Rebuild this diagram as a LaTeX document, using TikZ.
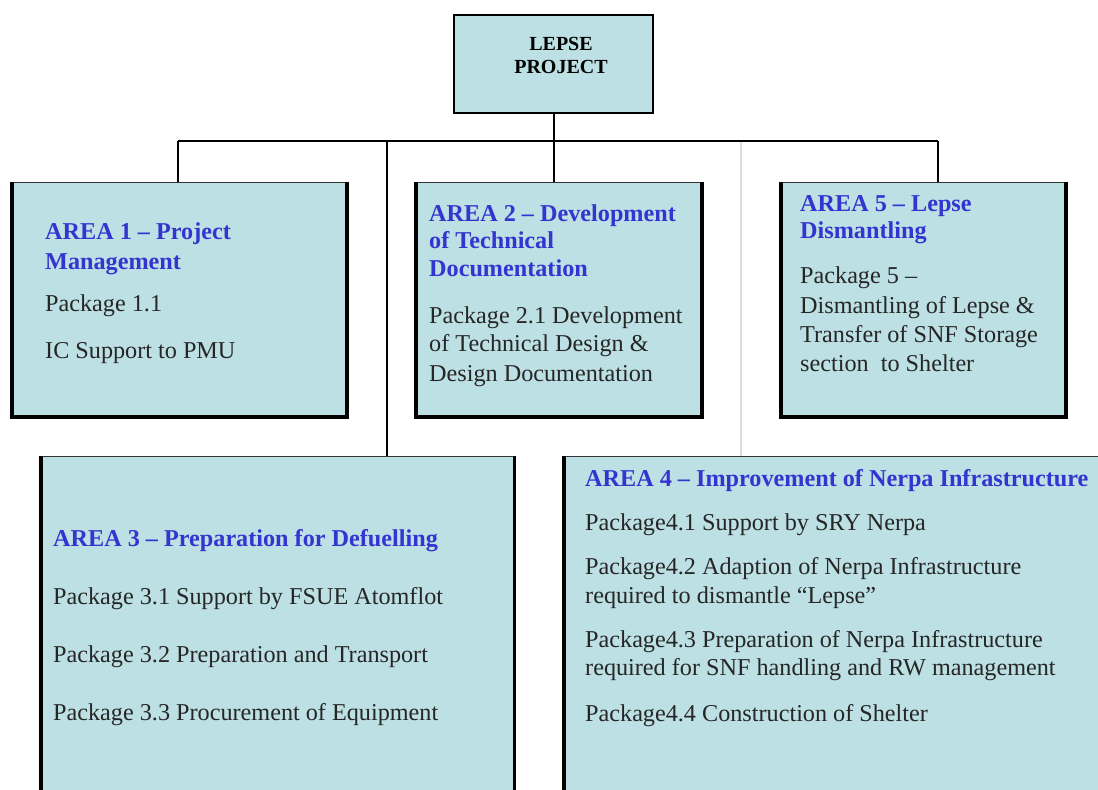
\documentclass[tikz,border=0pt]{standalone}
\usepackage{fontspec}
\setmainfont{Liberation Serif}
\definecolor{boxfill}{RGB}{188,224,227}
\definecolor{ttlblue}{RGB}{52,52,208}
\definecolor{sepgray}{RGB}{222,222,222}
\tikzset{
  areabox/.style={draw=black!80, line width=1pt, fill=boxfill, anchor=north west, inner sep=0pt},
  topbox/.style={draw=black, line width=2pt, fill=boxfill, anchor=north west, inner sep=0pt},
  ttl/.style={anchor=base west, inner sep=0pt, text=ttlblue, font=\fontsize{24.2}{28}\selectfont\bfseries},
  txt/.style={anchor=base west, inner sep=0pt, text=black!85, font=\fontsize{24.2}{28}\selectfont},
  toptxt/.style={anchor=base, inner sep=0pt, font=\fontsize{20}{24}\selectfont\bfseries},
  conn/.style={draw=black, line width=2pt},
  hconn/.style={draw=black, line width=1.5pt},
  grayconn/.style={draw=sepgray, line width=1.5pt}
}
\newcommand{\heavyedge}[1]{\draw[line width=4pt, black, line cap=square] ([xshift=2pt]#1.north west) -- ([xshift=2pt,yshift=2pt]#1.south west) -- ([xshift=-2pt,yshift=2pt]#1.south east) -- ([xshift=-2pt]#1.north east);}
\begin{document}
\begin{tikzpicture}[x=1pt,y=-1pt]
\useasboundingbox[fill=white] (0,0) rectangle (1098,790);

% top box
\node[topbox, minimum width=199pt, minimum height=98pt] (top) at (453,14) {};
\node[toptxt] (topA) at (561,50) {LEPSE};
\node[toptxt] (topB) at (561,73) {PROJECT};

% area boxes
\node[areabox, minimum width=338pt, minimum height=236pt] (a1) at (10,182) {};
\node[areabox, minimum width=289pt, minimum height=236pt] (a2) at (414,182) {};
\node[areabox, minimum width=288pt, minimum height=236pt] (a5) at (779,182) {};
\node[areabox, minimum width=476pt, minimum height=360pt] (a3) at (39,456) {};
\node[areabox, minimum width=560pt, minimum height=360pt] (a4) at (562,456) {};
\heavyedge{a1}
\heavyedge{a2}
\heavyedge{a5}
\draw[line width=4pt, black] ([xshift=2pt]a3.north west) -- ([xshift=2pt]a3.south west);
\draw[line width=3pt, black] ([xshift=-1.5pt]a3.north east) -- ([xshift=-1.5pt]a3.south east);
\draw[line width=4pt, black] ([xshift=2pt]a4.north west) -- ([xshift=2pt]a4.south west);

% connectors
\coordinate (jL) at (178,141);
\coordinate (j3) at (387,141);
\coordinate (jC) at (554,141);
\coordinate (j4) at (741,141);
\coordinate (jR) at (938,141);
\coordinate (d5) at (938,182);
\draw[grayconn] (j4) -- (j4 |- a4.north);
\draw[hconn] (jL) -- (jR);
\draw[conn] (top.south -| jC) -- (jC |- a2.north);
\draw[conn] (jL) -- (jL |- a1.north);
\draw[conn] (j3) -- (j3 |- a3.north);
\draw[conn] (jR) -- (d5);

% area 1 text
\node[ttl] (t1a) at (45,239) {AREA 1 – Project};
\node[ttl] (t1b) at (45,269) {Management};
\node[txt] (t1c) at (45,311) {Package 1.1};
\node[txt] (t1d) at (45,358) {IC Support to PMU};

% area 2 text
\node[ttl] (t2a) at (429,221) {AREA 2 – Development};
\node[ttl] (t2b) at (429,248) {of Technical};
\node[ttl] (t2c) at (429,276) {Documentation};
\node[txt] (t2d) at (429,323) {Package 2.1 Development};
\node[txt] (t2e) at (429,351) {of Technical Design \&};
\node[txt] (t2f) at (429,381) {Design Documentation};

% area 5 text
\node[ttl] (t5a) at (800,211) {AREA 5 – Lepse};
\node[ttl] (t5b) at (800,238) {Dismantling};
\node[txt] (t5c) at (800,283) {Package 5 –};
\node[txt] (t5d) at (800,313) {Dismantling of Lepse \&};
\node[txt] (t5e) at (800,342) {Transfer of SNF Storage};
\node[txt] (t5f) at (800,371) {section\ \ to Shelter};

% area 3 text
\node[ttl] (t3a) at (53,546) {AREA 3 – Preparation for Defuelling};
\node[txt] (t3b) at (53,604) {Package 3.1 Support by FSUE Atomflot};
\node[txt] (t3c) at (53,662) {Package 3.2 Preparation and Transport};
\node[txt] (t3d) at (53,720) {Package 3.3 Procurement of Equipment};

% area 4 text
\node[ttl] (t4a) at (585,486) {AREA 4 – Improvement of Nerpa Infrastructure};
\node[txt] (t4b) at (585,530) {Package4.1 Support by SRY Nerpa};
\node[txt] (t4c) at (585,574) {Package4.2 Adaption of Nerpa Infrastructure};
\node[txt] (t4d) at (585,603) {required to dismantle “Lepse”};
\node[txt] (t4e) at (585,647) {Package4.3 Preparation of Nerpa Infrastructure};
\node[txt] (t4f) at (585,675) {required for SNF handling and RW management};
\node[txt] (t4g) at (585,721) {Package4.4 Construction of Shelter};
\end{tikzpicture}
\end{document}
